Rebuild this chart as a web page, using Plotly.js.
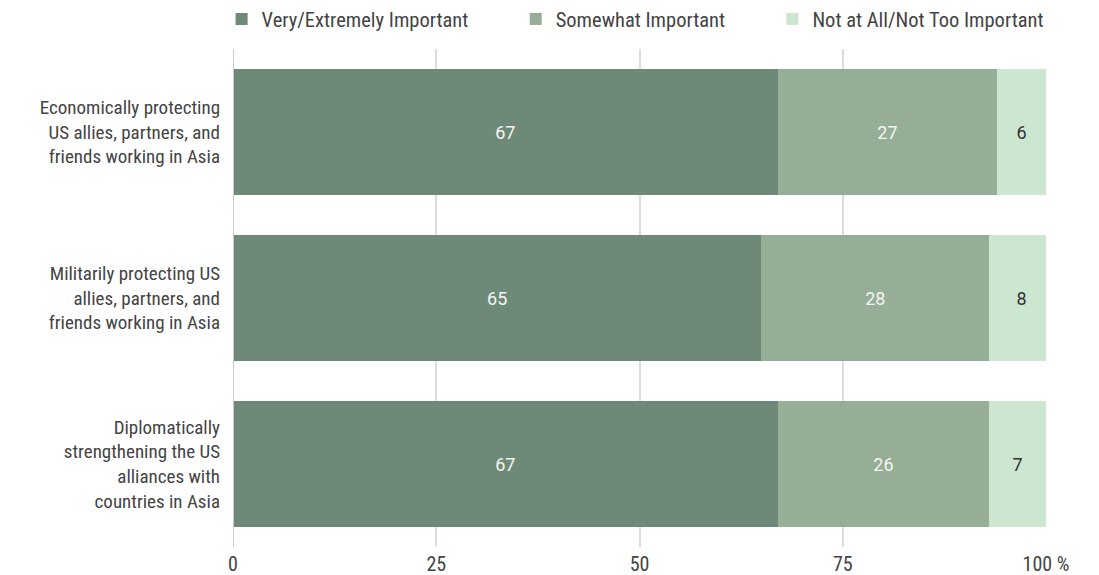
<!DOCTYPE html>
<html><head><meta charset="utf-8">
<script src="https://cdn.plot.ly/plotly-3.0.1.min.js"></script>
<style>body{margin:0;background:#fff}#chart{width:1099px;height:575px}</style>
</head><body><div id="chart"></div>
<script>
const categories = [
  "Economically protecting<br>US allies, partners, and<br>friends working in Asia",
  "Militarily protecting US<br>allies, partners, and<br>friends working in Asia",
  "Diplomatically<br>strengthening the US<br>alliances with<br>countries in Asia"
];
const seriesNames = ["Very/Extremely Important", "Somewhat Important", "Not at All/Not Too Important"];
const veryImportant = [67, 65, 67];
const somewhatImportant = [27, 28, 26];
const notImportant = [6, 8, 7];
const tickValues = [0, 25, 50, 75, 100];
const tickLabels = ["0", "25", "50", "75", "100 %"];

const colors = ["#6f8978", "#95ae95", "#cde6cf"];
const textColors = ["#f4f4f4", "#f4f4f4", "#333333"];
const values = [veryImportant, somewhatImportant, notImportant];
const pad = ["\u00a0".repeat(9), "\u00a0".repeat(9), ""];
const condensed = "Roboto Condensed, Liberation Sans Narrow, DejaVu Sans Condensed, sans-serif";

const traces = values.map((v, i) => ({
  type: "bar",
  orientation: "h",
  name: seriesNames[i] + pad[i],
  x: v,
  y: categories,
  marker: {color: colors[i], line: {width: 0}},
  text: v.map(String),
  textposition: "inside",
  insidetextanchor: "middle",
  textfont: {family: "Roboto, sans-serif", size: 18, color: textColors[i]},
  hoverinfo: "x+name"
}));

const layout = {
  width: 1099, height: 575,
  margin: {l: 233, r: 53, t: 49, b: 28, autoexpand: false},
  barmode: "stack",
  bargap: 0.24,
  paper_bgcolor: "#fff", plot_bgcolor: "#fff",
  font: {family: condensed, size: 20, color: "#444"},
  showlegend: true,
  legend: {
    orientation: "h", x: -0.014, xanchor: "left", y: 1.06, yanchor: "middle",
    font: {family: condensed, size: 20.5, color: "#444"},
    traceorder: "normal"
  },
  xaxis: {
    range: [0, 100], tickvals: tickValues, ticktext: tickLabels,
    showgrid: true, gridcolor: "#dddddd", gridwidth: 1.5,
    zeroline: false, showline: false, ticks: "", ticklabelstandoff: 3,
    tickfont: {family: condensed, size: 20, color: "#444"}, fixedrange: true
  },
  yaxis: {
    autorange: "reversed", showgrid: false, zeroline: false, ticks: "",
    ticklabelstandoff: 12,
    tickfont: {family: condensed, size: 19, color: "#444"}
  },
  shapes: [{type: "line", xref: "x", yref: "paper", x0: 0, x1: 0, y0: 0, y1: 1, line: {color: "#cccccc", width: 2}}]
};
Plotly.newPlot("chart", traces, layout, {displayModeBar: false});
</script></body></html>
